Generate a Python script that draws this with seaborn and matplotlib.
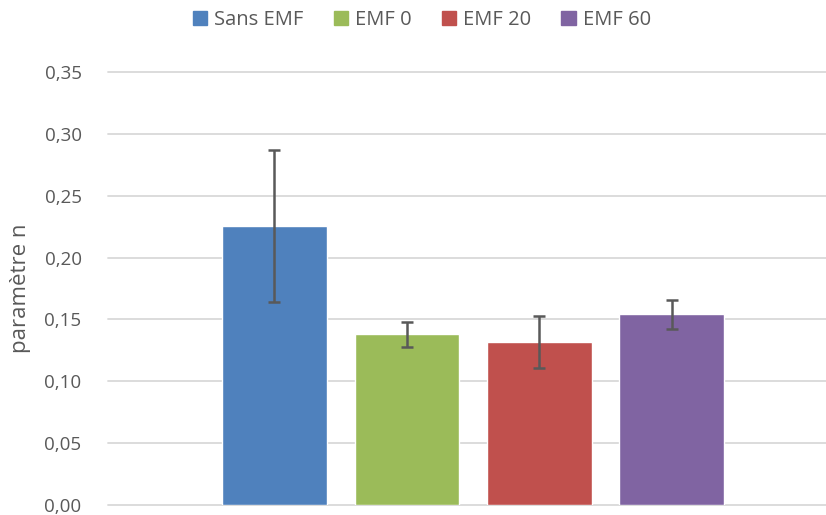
import matplotlib
matplotlib.use("Agg")
import matplotlib.pyplot as plt
import seaborn as sns
import pandas as pd

# données
groupes = ["Sans EMF", "EMF 0", "EMF 20", "EMF 60"]
valeurs = [0.2255, 0.138, 0.1315, 0.154]
erreurs = [0.0615, 0.010, 0.021, 0.0115]
couleurs = ["#4F81BD", "#9BBB59", "#C0504D", "#8064A2"]
yticks = [0.00, 0.05, 0.10, 0.15, 0.20, 0.25, 0.30, 0.35]

df = pd.DataFrame({"groupe": groupes, "n": valeurs})

sns.set_style("white")
plt.rcParams["font.family"] = ["Open Sans", "DejaVu Sans"]
gris = "#595959"

fig = plt.figure(figsize=(8.26, 5.15), dpi=100)
ax = fig.add_axes([108 / 826, 10 / 515, 718 / 826, 433 / 515])

sns.barplot(data=df, x="groupe", y="n", hue="groupe", palette=couleurs,
            width=0.79, dodge=False, legend=False, ax=ax, saturation=1)
ax.errorbar(range(len(groupes)), valeurs, yerr=erreurs, fmt="none",
            ecolor=gris, elinewidth=1.8, capsize=4.5, capthick=1.8, zorder=5)

ax.set_xlim(-1.257, 4.166)
ax.set_ylim(0, 0.35)
ax.set_yticks(yticks)
ax.set_yticklabels([f"{v:.2f}".replace(".", ",") for v in yticks])
ax.set_xticks([])
ax.set_xlabel("")
ax.set_ylabel("paramètre n", fontsize=16, color=gris, labelpad=10)
ax.tick_params(axis="y", length=0, labelsize=13.5, labelcolor=gris, pad=19)
ax.yaxis.grid(True, color="#D9D9D9", linewidth=1.3, clip_on=False)
ax.set_axisbelow(True)
for s in ax.spines.values():
    s.set_visible(False)

handles = [plt.Rectangle((0, 0), 1, 1, color=c) for c in couleurs]
fig.legend(handles, groupes, loc="center", bbox_to_anchor=(422 / 826, 1 - 20 / 515),
           ncol=4, frameon=False, fontsize=14.5, labelcolor=gris,
           handlelength=0.7, handleheight=0.7, handletextpad=0.35, columnspacing=1.5)

fig.savefig("out.png", dpi=100)
